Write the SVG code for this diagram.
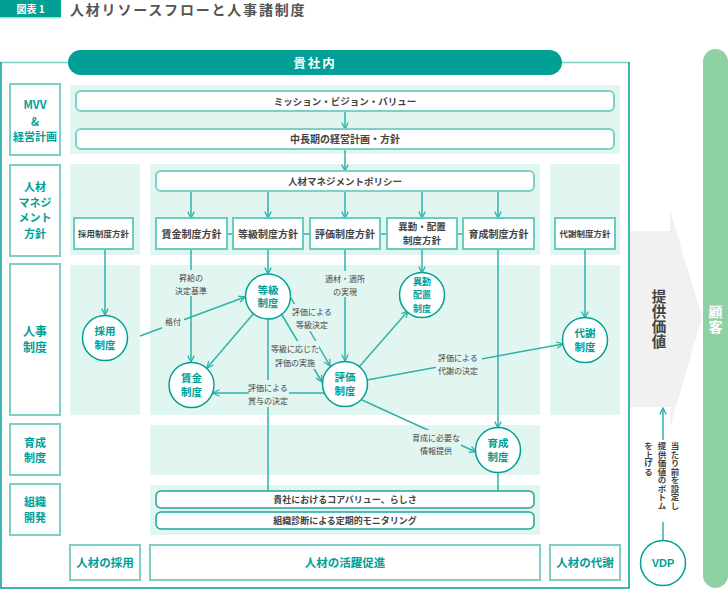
<svg xmlns="http://www.w3.org/2000/svg" width="728" height="610" viewBox="0 0 728 610">
<defs>
<style>
text{font-family:"Noto Sans CJK JP","Noto Sans",sans-serif;}
.cat{fill:#fff;stroke:#7fcfc6;stroke-width:2;}
.catt{fill:#00a096;font-weight:bold;font-size:11px;text-anchor:middle;}
.panel{fill:#e2f6f1;}
.rbox{fill:#fff;stroke:#7fcfc6;stroke-width:2;}
.rt{fill:#444;font-weight:bold;font-size:9.5px;text-anchor:middle;}
.pbox{fill:#fff;stroke:#6ccbc1;stroke-width:2;}
.pt{fill:#444;font-weight:bold;font-size:10px;text-anchor:middle;}
.circ{fill:#fff;stroke:#00a096;stroke-width:1.5;}
.ct{fill:#00a096;font-weight:bold;font-size:10.5px;text-anchor:middle;}
.ln{fill:none;stroke:#2fb2a7;stroke-width:1.5;}
.arr{marker-end:url(#ah);}
.el{fill:#444;font-size:8px;text-anchor:middle;}
.elbg{fill:#e2f6f1;}
.obox{fill:#fff;stroke:#1aa69b;stroke-width:1.5;}
.bt{fill:#00a096;font-weight:bold;font-size:11.5px;text-anchor:middle;}
.vt{fill:#444;font-size:8.5px;font-weight:bold;writing-mode:vertical-rl;}
</style>
<marker id="ah" viewBox="0 0 10 10" refX="9" refY="5" markerWidth="8" markerHeight="8" markerUnits="userSpaceOnUse" orient="auto">
<path d="M1,1 L9,5 L1,9" fill="none" stroke="#2fb2a7" stroke-width="1.6"/>
</marker>
</defs>

<!-- title -->
<g id="title">
<rect x="0" y="0" width="61" height="17" fill="#00a096"/>
<rect x="0" y="17" width="61" height="1.5" fill="#a6ddd7"/>
<text x="30.5" y="12.5" fill="#fff" font-size="10" font-weight="bold" text-anchor="middle">図表 1</text>
<text x="70" y="15" fill="#555" font-size="14" font-weight="bold" letter-spacing="1.8">人材リソースフローと人事諸制度</text>
</g>

<!-- right side -->
<g id="customer">
<rect x="703" y="49" width="25" height="539" rx="12.5" fill="#8ed1a5"/>
<text x="715.5" y="305" fill="#fff" font-size="14" font-weight="bold" style="writing-mode:vertical-rl" letter-spacing="1">顧客</text>
</g>
<g id="value">
<polygon points="630,231 670,231 670,210 702,317 670,428 670,407 630,407" fill="#f1f1f1"/>
<text x="659" y="289" fill="#444" font-size="14.5" font-weight="bold" style="writing-mode:vertical-rl" letter-spacing="0.5">提供価値</text>
</g>

<!-- frame -->
<g id="frame">
<line x1="0" y1="62.5" x2="629" y2="62.5" stroke="#7fcfc6" stroke-width="1.5"/>
<polyline points="1,62 1,588 629,588 629,62" fill="none" stroke="#00a096" stroke-width="1.5"/>
<rect x="68" y="50" width="494" height="25" rx="12.5" fill="#00a096"/>
<text x="315" y="67.5" fill="#fff" font-size="12.5" font-weight="bold" text-anchor="middle" letter-spacing="2">貴社内</text>
</g>

<!-- panels -->
<g id="panels">
<rect class="panel" x="70" y="85" width="550" height="69"/>
<rect class="panel" x="70" y="164" width="70" height="91"/>
<rect class="panel" x="150" y="164" width="390" height="91"/>
<rect class="panel" x="550" y="164" width="70" height="91"/>
<rect class="panel" x="70" y="265" width="70" height="150"/>
<rect class="panel" x="150" y="265" width="390" height="150"/>
<rect class="panel" x="550" y="265" width="70" height="150"/>
<rect class="panel" x="150" y="425" width="390" height="50"/>
<rect class="panel" x="150" y="485" width="390" height="50"/>
</g>

<!-- category labels -->
<g id="cat-mvv"><rect class="cat" x="10" y="84" width="50" height="71"/>
<text class="catt"><tspan x="35" y="109">MVV</tspan><tspan x="35" y="126">&amp;</tspan><tspan x="35" y="141">経営計画</tspan></text></g>
<g id="cat-policy"><rect class="cat" x="10" y="165" width="50" height="91"/>
<text class="catt"><tspan x="35" y="191">人材</tspan><tspan x="35" y="207">マネジ</tspan><tspan x="35" y="222">メント</tspan><tspan x="35" y="238">方針</tspan></text></g>
<g id="cat-hr"><rect class="cat" x="10" y="264" width="50" height="151"/>
<text class="catt" style="font-size:12px"><tspan x="35" y="336">人事</tspan><tspan x="35" y="352">制度</tspan></text></g>
<g id="cat-dev"><rect class="cat" x="10" y="424" width="50" height="51"/>
<text class="catt"><tspan x="35" y="447">育成</tspan><tspan x="35" y="462">制度</tspan></text></g>
<g id="cat-org"><rect class="cat" x="10" y="484" width="50" height="51"/>
<text class="catt"><tspan x="35" y="506">組織</tspan><tspan x="35" y="522">開発</tspan></text></g>

<!-- connectors -->
<g id="connectors">
<line class="ln arr" x1="345" y1="111" x2="345" y2="129"/>
<line class="ln arr" x1="345" y1="149" x2="345" y2="171"/>
<line class="ln arr" x1="191" y1="191" x2="191" y2="218"/>
<line class="ln arr" x1="268" y1="191" x2="268" y2="218"/>
<line class="ln arr" x1="345" y1="191" x2="345" y2="218"/>
<line class="ln arr" x1="422" y1="191" x2="422" y2="218"/>
<line class="ln arr" x1="498" y1="191" x2="498" y2="218"/>
<line class="ln" x1="227" y1="234" x2="233" y2="234"/>
<line class="ln" x1="303" y1="234" x2="310" y2="234"/>
<line class="ln" x1="380" y1="234" x2="387" y2="234"/>
<line class="ln" x1="457" y1="234" x2="463" y2="234"/>
<line class="ln arr" x1="105" y1="249" x2="105" y2="315"/>
<line class="ln arr" x1="191" y1="249" x2="191" y2="362"/>
<line class="ln arr" x1="268" y1="249" x2="268" y2="274"/>
<line class="ln arr" x1="345" y1="249" x2="345" y2="361"/>
<line class="ln arr" x1="422" y1="249" x2="422" y2="273"/>
<line class="ln arr" x1="498" y1="249" x2="498" y2="428"/>
<line class="ln arr" x1="585" y1="249" x2="585" y2="318"/>
<line class="ln" x1="268" y1="319" x2="268" y2="491"/>
<line class="ln" x1="498" y1="472" x2="498" y2="491"/>
<line class="ln arr" x1="140" y1="336" x2="245" y2="297"/>
<line class="ln arr" x1="254" y1="313" x2="207" y2="368"/>
<line class="ln arr" x1="291" y1="298" x2="330" y2="366"/>
<line class="ln arr" x1="282" y1="315" x2="322" y2="382"/>
<line class="ln arr" x1="324" y1="393" x2="213" y2="393"/>
<line class="ln arr" x1="359" y1="367" x2="408" y2="311"/>
<line class="ln arr" x1="367" y1="380" x2="563" y2="344"/>
<line class="ln arr" x1="362" y1="400" x2="476" y2="452"/>
<line class="ln arr" x1="663" y1="541" x2="663" y2="408"/>
</g>

<!-- edge labels -->
<g id="edge-labels">
<rect class="elbg" x="174" y="270" width="34" height="26"/>
<text class="el"><tspan x="191" y="281">昇給の</tspan><tspan x="191" y="294">決定基準</tspan></text>
<rect class="elbg" x="162" y="315" width="22" height="14"/>
<text class="el" x="173" y="325">格付</text>
<rect class="elbg" x="322" y="271" width="46" height="26"/>
<text class="el"><tspan x="345" y="282">適材・適所</tspan><tspan x="345" y="295">の実現</tspan></text>
<rect class="elbg" x="292" y="304" width="40" height="27"/>
<text class="el"><tspan x="312" y="315">評価による</tspan><tspan x="312" y="328">等級決定</tspan></text>
<rect class="elbg" x="271" y="341" width="48" height="28"/>
<text class="el"><tspan x="295" y="352">等級に応じた</tspan><tspan x="295" y="366">評価の実施</tspan></text>
<rect class="elbg" x="249" y="380" width="40" height="27"/>
<text class="el"><tspan x="268" y="391">評価による</tspan><tspan x="268" y="404">賞与の決定</tspan></text>
<rect class="elbg" x="436" y="350" width="46" height="27"/>
<text class="el"><tspan x="458" y="361">評価による</tspan><tspan x="458" y="374">代謝の決定</tspan></text>
<rect class="elbg" x="411" y="430" width="50" height="27"/>
<text class="el"><tspan x="436" y="441">育成に必要な</tspan><tspan x="436" y="454">情報提供</tspan></text>
<rect x="640" y="440" width="44" height="82" fill="#fff"/>
<text class="vt" x="675" y="442">当たり前を設定し</text>
<text class="vt" x="662" y="442">提供価値のボトム</text>
<text class="vt" x="648.5" y="442">を上げる</text>
</g>

<!-- MVV boxes -->
<g id="mission"><rect class="rbox" x="76" y="91" width="538" height="20" rx="5"/><text class="rt" x="345" y="104.5">ミッション・ビジョン・バリュー</text></g>
<g id="plan"><rect class="rbox" x="76" y="129" width="538" height="20" rx="5"/><text class="rt" x="345" y="142.5" style="font-size:10px">中長期の経営計画・方針</text></g>
<g id="hr-policy"><rect class="rbox" x="156" y="171" width="378" height="20" rx="5"/><text class="rt" x="345" y="184.5">人材マネジメントポリシー</text></g>

<!-- policy boxes -->
<g id="p-recruit"><rect class="pbox" x="74" y="218" width="59" height="31"/><text class="pt" x="103.5" y="236.5" style="font-size:8.5px">採用制度方針</text></g>
<g id="p-wage"><rect class="pbox" x="156" y="218" width="71" height="31"/><text class="pt" x="191.5" y="237.5">賃金制度方針</text></g>
<g id="p-grade"><rect class="pbox" x="233" y="218" width="70" height="31"/><text class="pt" x="268" y="237.5">等級制度方針</text></g>
<g id="p-eval"><rect class="pbox" x="310" y="218" width="70" height="31"/><text class="pt" x="345" y="237.5">評価制度方針</text></g>
<g id="p-transfer"><rect class="pbox" x="387" y="218" width="70" height="31"/><text class="pt" style="font-size:9.5px"><tspan x="422" y="229.5">異動・配置</tspan><tspan x="422" y="243.5">制度方針</tspan></text></g>
<g id="p-dev"><rect class="pbox" x="463" y="218" width="71" height="31"/><text class="pt" x="498.5" y="237.5">育成制度方針</text></g>
<g id="p-exit"><rect class="pbox" x="555" y="218" width="60" height="31"/><text class="pt" x="585" y="236.5" style="font-size:8.5px">代謝制度方針</text></g>

<!-- system circles -->
<g id="c-recruit"><circle class="circ" cx="105" cy="338" r="22.5"/><text class="ct"><tspan x="105" y="335">採用</tspan><tspan x="105" y="349">制度</tspan></text></g>
<g id="c-grade"><circle class="circ" cx="268" cy="296.5" r="22.5"/><text class="ct"><tspan x="268" y="293.5">等級</tspan><tspan x="268" y="307">制度</tspan></text></g>
<g id="c-wage"><circle class="circ" cx="191.5" cy="385" r="22.5"/><text class="ct"><tspan x="191.5" y="382">賃金</tspan><tspan x="191.5" y="396">制度</tspan></text></g>
<g id="c-eval"><circle class="circ" cx="345" cy="384" r="22.5"/><text class="ct"><tspan x="345" y="381">評価</tspan><tspan x="345" y="395">制度</tspan></text></g>
<g id="c-transfer"><circle class="circ" cx="422" cy="295" r="22.5"/><text class="ct" style="font-size:9px"><tspan x="422" y="285.3">異動</tspan><tspan x="422" y="298.4">配置</tspan><tspan x="422" y="311.5">制度</tspan></text></g>
<g id="c-exit"><circle class="circ" cx="585" cy="340" r="22.5"/><text class="ct"><tspan x="585" y="337">代謝</tspan><tspan x="585" y="351">制度</tspan></text></g>
<g id="c-dev"><circle class="circ" cx="498" cy="450" r="22.5"/><text class="ct"><tspan x="498" y="447">育成</tspan><tspan x="498" y="461">制度</tspan></text></g>
<g id="c-vdp"><circle class="circ" cx="663" cy="563" r="22.5"/><text class="ct" x="663" y="567" style="font-size:11px;font-family:'Liberation Sans',Arial,sans-serif">VDP</text></g>

<!-- org boxes -->
<g id="core-value"><rect class="obox" x="156" y="491" width="378" height="17" rx="5"/><text class="rt" x="345" y="503" style="font-size:9px">貴社におけるコアバリュー、らしさ</text></g>
<g id="monitoring"><rect class="obox" x="156" y="512" width="378" height="17" rx="5"/><text class="rt" x="345" y="524" style="font-size:9px">組織診断による定期的モニタリング</text></g>

<!-- bottom boxes -->
<g id="b-recruit"><rect class="cat" x="70" y="545" width="70" height="35"/><text class="bt" x="105" y="566.5">人材の採用</text></g>
<g id="b-active"><rect class="cat" x="150" y="545" width="390" height="35"/><text class="bt" x="345" y="566.5">人材の活躍促進</text></g>
<g id="b-exit"><rect class="cat" x="550" y="545" width="70" height="35"/><text class="bt" x="585" y="566.5">人材の代謝</text></g>
</svg>
